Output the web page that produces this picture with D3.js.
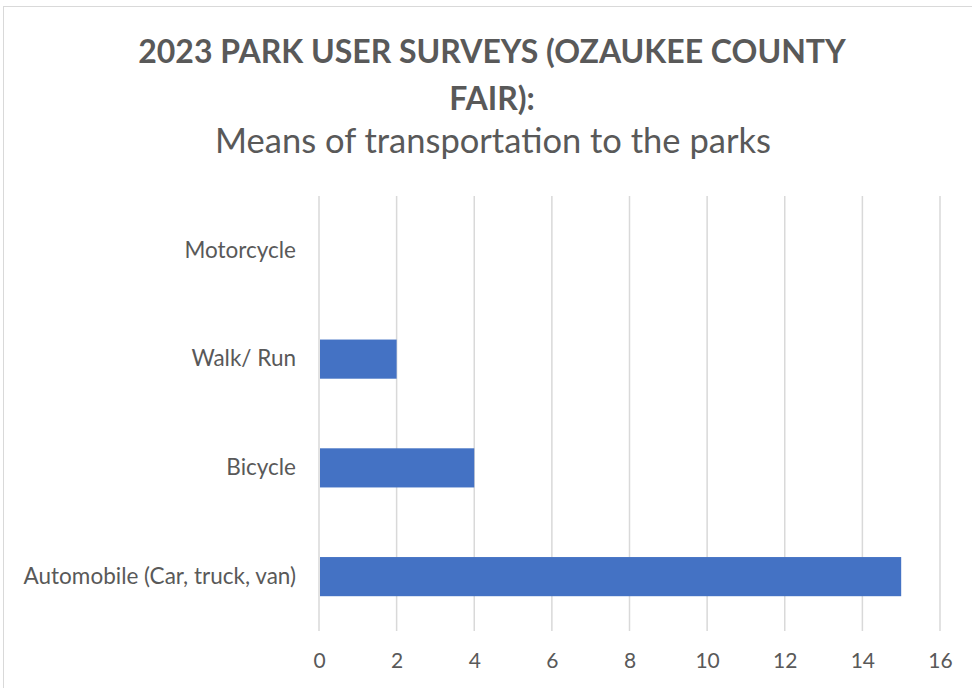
<!DOCTYPE html>
<html>
<head>
<meta charset="utf-8">
<script src="https://cdn.jsdelivr.net/npm/d3@7"></script>
<style>
  body { margin: 0; background: #fff; }
  svg { display: block; font-family: Lato, "Open Sans", sans-serif; }
</style>
</head>
<body>
<svg id="chart" width="972" height="688"></svg>
<script>
(function() {
    const categories = ["Automobile (Car, truck, van)", "Bicycle", "Walk/ Run", "Motorcycle"];
    const values = [15, 4, 2, 0];
    const xTicks = [0, 2, 4, 6, 8, 10, 12, 14, 16];
    const titleLines = ["2023 PARK USER SURVEYS (OZAUKEE COUNTY", "FAIR):"];
    const subtitle = "Means of transportation to the parks";

    const data = categories.map((c, i) => ({ category: c, value: values[i] }));

    const width = 972, height = 688;
    const margin = { top: 196, right: 32, bottom: 57, left: 319 };
    const textColor = "#595959";

    const svg = d3.select("#chart");

    // chart frame
    svg.append("rect")
        .attr("x", 3.5).attr("y", 6.5)
        .attr("width", 990).attr("height", 700)
        .attr("fill", "#fff")
        .attr("stroke", "#d9d9d9")
        .attr("stroke-width", 1);

    // --- TITLE ---
    const title = svg.append("g").attr("fill", textColor).attr("text-anchor", "middle");
    titleLines.forEach((t, i) => {
        title.append("text")
            .attr("x", 492).attr("y", 63 + i * 47)
            .attr("font-size", "32px").attr("font-weight", "bold")
            .text(t);
    });
    title.append("text")
        .attr("x", 493).attr("y", 153)
        .attr("font-size", "34.5px")
        .text(subtitle);

    // --- SCALES ---
    const x = d3.scaleLinear()
        .domain([0, 16])
        .range([margin.left, width - margin.right]);

    // Motorcycle on top, Automobile at bottom
    const y = d3.scaleBand()
        .domain(categories.slice().reverse())
        .range([margin.top, height - margin.bottom])
        .paddingInner(0.64)
        .paddingOuter(0.32);

    // --- GRID ---
    svg.append("g")
        .selectAll("line")
        .data(xTicks)
        .join("line")
        .attr("x1", d => x(d)).attr("x2", d => x(d))
        .attr("y1", margin.top).attr("y2", height - margin.bottom)
        .attr("stroke", "#d9d9d9")
        .attr("stroke-width", 1.5);

    // --- BARS ---
    svg.append("g")
        .selectAll("rect")
        .data(data)
        .join("rect")
        .attr("x", x(0) + 1)
        .attr("y", d => y(d.category))
        .attr("width", d => Math.max(0, x(d.value) - x(0) - 1))
        .attr("height", y.bandwidth())
        .attr("fill", "#4472c4");

    // --- AXES ---
    const xAxis = svg.append("g")
        .attr("transform", `translate(0,${height - margin.bottom})`)
        .call(d3.axisBottom(x).tickValues(xTicks).tickSize(0).tickPadding(22));
    xAxis.select(".domain").remove();
    xAxis.selectAll("text")
        .attr("fill", textColor)
        .attr("font-size", "21px")
        .attr("font-family", "Lato, sans-serif");

    const yAxis = svg.append("g")
        .attr("transform", `translate(${margin.left},0)`)
        .call(d3.axisLeft(y).tickSize(0).tickPadding(23));
    yAxis.select(".domain").remove();
    yAxis.selectAll("text")
        .attr("fill", textColor)
        .attr("font-size", "22.5px")
        .attr("font-family", "Lato, sans-serif");
})();
</script>
</body>
</html>
